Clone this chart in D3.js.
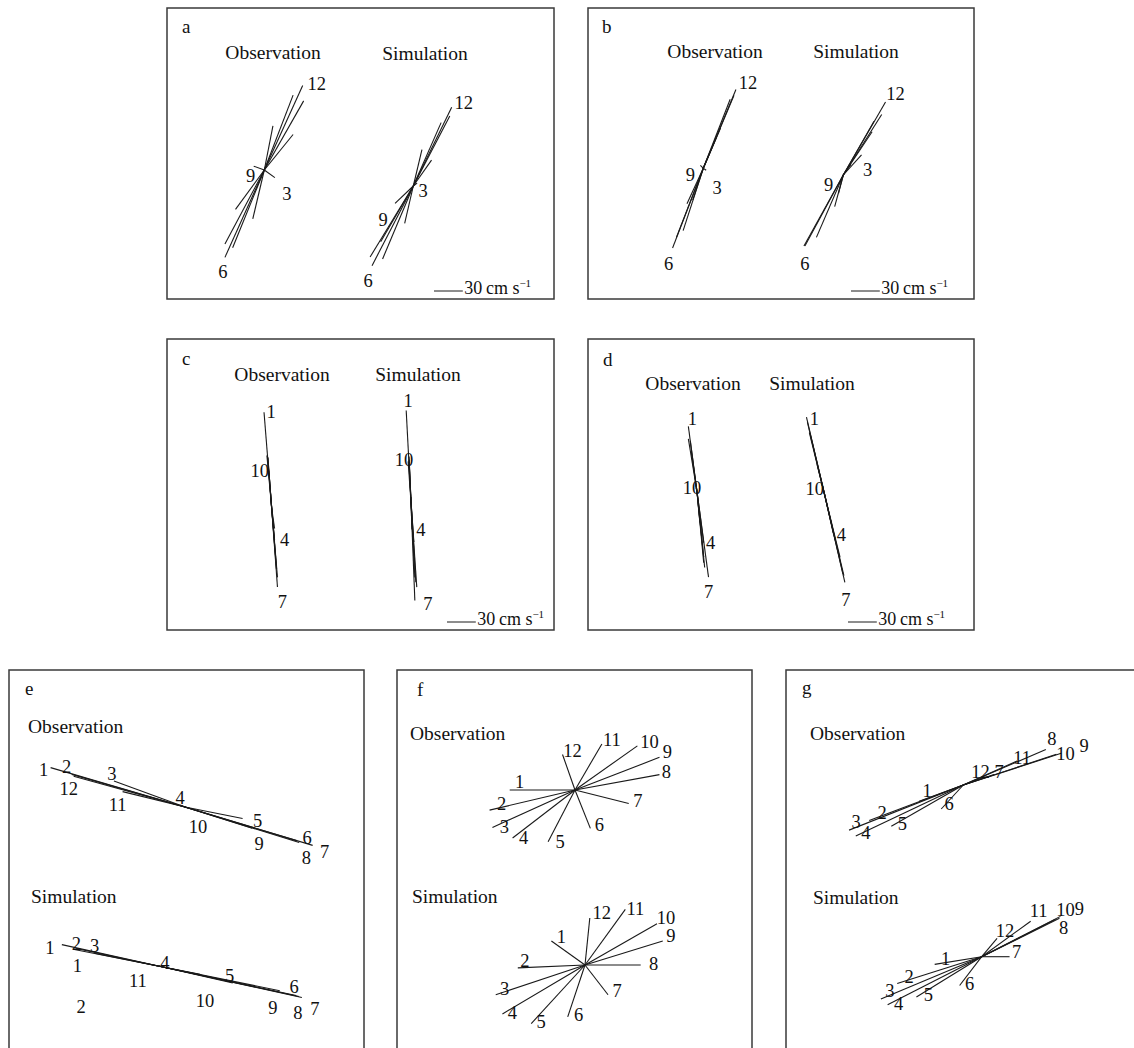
<!DOCTYPE html>
<html>
<head>
<meta charset="utf-8">
<script src="https://cdn.jsdelivr.net/npm/d3@7"></script>
<style>
  body { margin: 0; background: #fff; }
  text { font-family: "Liberation Serif", "Times New Roman", serif; fill: #111; }
</style>
</head>
<body>
<svg id="fig" width="1134" height="1048"></svg>
<script>
// hourly current vectors, u = east, v = north, cm/s
const hours = [1, 2, 3, 4, 5, 6, 7, 8, 9, 10, 11, 12];

const aObsU = [41, 30, 11, -12, -33, -41, -41, -30, -11, 9, 30, 40];
const aObsV = [72, 37, -8, -51, -81, -91, -77, -41, 4, 46, 78, 88];
const aSimU = [38, 19, 4, -9, -32, -43, -45, -34, -19, 9, 29, 40];
const aSimV = [73, 27, 3, -39, -76, -83, -74, -58, -18, 38, 66, 82];

const bObsU = [32, 18, 3, -11, -21, -32, -28, -17, -3, 14, 28, 34];
const bObsV = [76, 42, -2, -33, -65, -83, -72, -37, 3, 33, 72, 82];
const bSimU = [40, 30, 19, -4, -9, -41, -40, -28, -5, 8, 32, 44];
const bSimV = [63, 45, 21, -9, -33, -74, -74, -65, -19, 11, 56, 76];

const cObsU = [-8, -4, -1, 3, 5, 6, 6, 5, 3, -3, -4, -5];
const cObsV = [100, 53, 11, -33, -63, -72, -82, -63, -21, 39, 53, 55];
const cSimU = [-5, -2, 0, 1, 4, 6, 4, 5, 3, -2, -2, -3];
const cSimV = [95, 47, 5, -29, -79, -89, -103, -84, -42, 43, 44, 42];

const dObsU = [-9, -6, -2, 7, 7, 8, 12, 7, 3, -1, -7, -9];
const dObsV = [68, 42, 11, -53, -68, -79, -89, -74, -32, 4, 53, 55];
const dSimU = [-19, -16, -8, 9, 16, 20, 21, 19, 11, -2, -15, -18];
const dSimV = [81, 65, 32, -40, -65, -84, -91, -82, -47, 6, 63, 76];

const eObsU = [-140, -118, -74, -5, 60, 119, 133, 116, 70, 3, -65, -116];
const eObsV = [41, 34, 27, 2, -12, -37, -40, -35, -22, -1, 16, 32];
const eSimU = [-104, -89, -70, -3, 74, 140, 146, 143, 123, 40, -29, -91];
const eSimV = [23, 19, 14, 1, -17, -30, -32, -31, -25, -8, 6, 18];

const fObsU = [-68, -89, -86, -65, -28, 16, 56, 88, 88, 65, 28, -13];
const fObsV = [0, -21, -39, -50, -54, -40, -14, 16, 34, 46, 48, 37];
const fSimU = [-35, -70, -93, -86, -56, -18, 24, 58, 81, 75, 42, 5];
const fSimV = [25, -3, -31, -51, -61, -54, -31, 0, 25, 43, 58, 49];

const gObsU = [-46, -98, -119, -112, -75, -23, 32, 86, 102, 97, 56, 21];
const gObsV = [-17, -37, -47, -53, -43, -25, 11, 37, 33, 32, 25, 8];
const gSimU = [-49, -88, -105, -98, -68, -23, 29, 77, 82, 81, 51, 16];
const gSimV = [-8, -28, -44, -50, -42, -30, 0, 39, 42, 40, 37, 19];

const barValue = 30;

// cm/s -> px
const speed = d3.scaleLinear().domain([0, 30]).range([0, 28.8]);

// layout: labels are [hour, dx, dy] from the stick tip
const panels = [
  {id: "a", box: [167, 8, 387, 291], letter: [182, 33], anchor: "middle",
   obsT: [273, 59], simT: [425, 60], bar: [434, 291],
   series: [
     {u: aObsU, v: aObsV, c: [264.3, 170], labels: [[12, 14, -2], [9, -3, 10], [3, 12, 16], [6, -2, 15]]},
     {u: aSimU, v: aSimV, c: [413.3, 186], labels: [[12, 12, -4], [9, -12, 17], [3, 6, 8], [6, -4, 15]]}
   ]},
  {id: "b", box: [588, 8, 386, 291], letter: [602, 33], anchor: "middle",
   obsT: [715, 58], simT: [856, 58], bar: [851, 291],
   series: [
     {u: bObsU, v: bObsV, c: [703.3, 168.3], labels: [[12, 12, -7], [9, -10, 10], [3, 11, 18], [6, -4, 16]]},
     {u: bSimU, v: bSimV, c: [843.3, 175], labels: [[12, 10, -8], [3, 6, 15], [9, -10, -8], [6, 1, 18]]}
   ]},
  {id: "c", box: [167, 339, 387, 291], letter: [182, 365], anchor: "middle",
   obsT: [282, 381], simT: [418, 381], bar: [447, 622],
   series: [
     {u: cObsU, v: cObsV, c: [271.7, 508.3], labels: [[1, 7, 0], [10, -9, 0], [4, 10, 0], [7, 5, 15]]},
     {u: cSimU, v: cSimV, c: [411, 501.7], labels: [[1, 2, -10], [10, -5, 0], [4, 9, 0], [7, 13, 3]]}
   ]},
  {id: "d", box: [588, 339, 386, 291], letter: [603, 366], anchor: "middle",
   obsT: [693, 390], simT: [812, 390], bar: [848, 622],
   series: [
     {u: dObsU, v: dObsV, c: [697, 491.7], labels: [[1, 4, -7], [10, -4, 0], [4, 7, 0], [7, 0, 15]]},
     {u: dSimU, v: dSimV, c: [824.7, 495], labels: [[1, 8, 2], [10, -8, 0], [4, 8, 2], [7, 1, 18]]}
   ]},
  {id: "e", box: [9, 670, 355, 420], letter: [25, 695], anchor: "start",
   obsT: [28, 733], simT: [31, 903], bar: null,
   series: [
     {u: eObsU, v: eObsV, c: [185, 807],
      labels: [[1, -7, 2], [2, -5, -7], [3, -2, -7], [4, 0, -7], [5, 15, 2], [6, 8, -5], [7, 12, 7],
               [8, 10, 17], [9, 7, 16], [10, 10, 19], [11, -5, 13], [12, -5, 13]]},
     {u: eSimU, v: eSimV, c: [161.7, 966.7],
      labels: [[1, -12, 3], [2, 0, -4], [3, 0, -7], [4, 6, -3], [5, -3, -7], [6, -2, -9], [7, 13, 12],
               [8, -1, 17], [9, -7, 17], [10, 5, 27], [11, 4, 20], [12, 3, 17, "1"]],
      extra: [["2", 81, 1007]]}
   ]},
  {id: "f", box: [397, 670, 355, 420], letter: [417, 696], anchor: "start",
   obsT: [410, 740], simT: [412, 903], bar: null,
   series: [
     {u: fObsU, v: fObsV, c: [575, 790],
      labels: [[1, 10, -8], [2, 12, -6], [3, 12, 0], [4, 11, 0], [5, 12, 0], [6, 9, -3], [7, 9, -2],
               [8, 7, -3], [9, 8, -5], [10, 12, -4], [11, 10, -4], [12, 10, -3]]},
     {u: fSimU, v: fSimV, c: [585, 965],
      labels: [[1, 10, -4], [2, 7, -7], [3, 9, -6], [4, 10, -1], [5, 10, -2], [6, 11, -2], [7, 9, -4],
               [8, 13, -1], [9, 8, -5], [10, 9, -6], [11, 10, 0], [12, 12, -5]]}
   ]},
  {id: "g", box: [786, 670, 400, 420], letter: [802, 694], anchor: "start",
   obsT: [810, 740], simT: [813, 904], bar: null,
   series: [
     {u: gObsU, v: gObsV, c: [963.3, 785],
      labels: [[1, 8, -10], [2, 13, -8], [3, 7, -8], [4, 10, -3], [5, 11, -2], [6, 8, -5], [7, 5, -2],
               [8, 6, -10], [9, 23, -7], [10, 9, 0], [11, 5, -3], [12, -3, -5]]},
     {u: gSimU, v: gSimV, c: [981.7, 956.7],
      labels: [[1, 11, -5], [2, 12, -7], [3, 9, -8], [4, 11, -1], [5, 12, -2], [6, 10, -2], [7, 7, -5],
               [8, 8, 9], [9, 19, -7], [10, 6, -8], [11, 8, -10], [12, 8, -7]]}
   ]}
];

const svg = d3.select("#fig");
svg.append("rect").attr("width", 1134).attr("height", 1048).attr("fill", "#fff");

panels.forEach(function(p) {
  const g = svg.append("g").attr("class", "panel-" + p.id);

  g.append("rect")
    .attr("x", p.box[0]).attr("y", p.box[1])
    .attr("width", p.box[2]).attr("height", p.box[3])
    .attr("fill", "none").attr("stroke", "#3a3a3a").attr("stroke-width", 1.5);

  g.append("text")
    .attr("x", p.letter[0]).attr("y", p.letter[1])
    .attr("font-size", 19)
    .text(p.id);

  g.append("text").attr("x", p.obsT[0]).attr("y", p.obsT[1])
    .attr("text-anchor", p.anchor).attr("font-size", 19.5).text("Observation");
  g.append("text").attr("x", p.simT[0]).attr("y", p.simT[1])
    .attr("text-anchor", p.anchor).attr("font-size", 19.5).text("Simulation");

  p.series.forEach(function(s) {
    const pts = hours.map(function(h, i) {
      return {h: h, x: s.c[0] + speed(s.u[i]), y: s.c[1] - speed(s.v[i])};
    });

    g.append("g")
      .selectAll("line")
      .data(pts)
      .enter()
      .append("line")
      .attr("x1", s.c[0]).attr("y1", s.c[1])
      .attr("x2", function(d) { return d.x; })
      .attr("y2", function(d) { return d.y; })
      .attr("stroke", "#1a1a1a")
      .attr("stroke-width", 1.1);

    g.append("g")
      .selectAll("text")
      .data(s.labels)
      .enter()
      .append("text")
      .attr("x", function(d) { return pts[d[0] - 1].x + d[1]; })
      .attr("y", function(d) { return pts[d[0] - 1].y + d[2]; })
      .attr("text-anchor", "middle")
      .attr("dominant-baseline", "central")
      .attr("font-size", 18.5)
      .text(function(d) { return d[3] || hours[d[0] - 1]; });

    (s.extra || []).forEach(function(t) {
      g.append("text").attr("x", t[1]).attr("y", t[2])
        .attr("text-anchor", "middle").attr("dominant-baseline", "central")
        .attr("font-size", 18.5).text(t[0]);
    });
  });

  // scale bar
  if (p.bar) {
    const x0 = p.bar[0], y0 = p.bar[1];
    g.append("line")
      .attr("x1", x0).attr("x2", x0 + speed(barValue))
      .attr("y1", y0).attr("y2", y0)
      .attr("stroke", "#1a1a1a").attr("stroke-width", 1);
    const t = g.append("text")
      .attr("x", x0 + speed(barValue) + 1.5).attr("y", y0 + 3)
      .attr("font-size", 18);
    t.append("tspan").text(barValue + "\u2009cm s");
    t.append("tspan").attr("font-size", 11).attr("dy", -7).text("\u22121");
  }
});
</script>
</body>
</html>
